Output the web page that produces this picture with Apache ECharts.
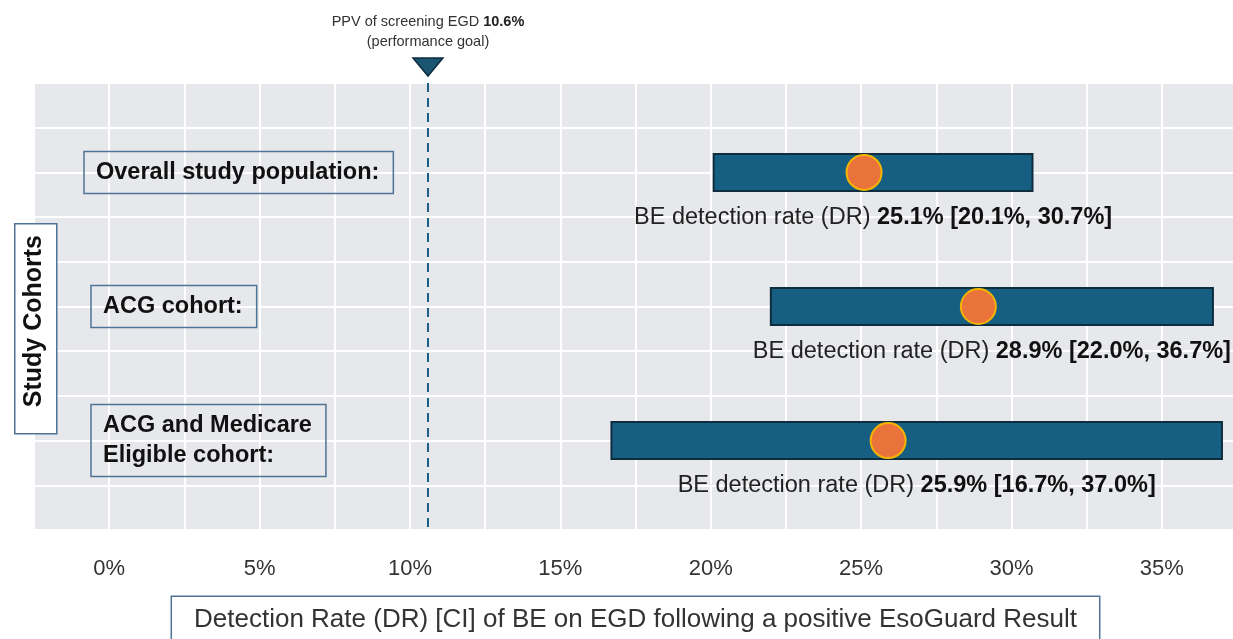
<!DOCTYPE html>
<html>
<head>
<meta charset="utf-8">
<script src="https://cdn.jsdelivr.net/npm/echarts@6/dist/echarts.min.js"></script>
<style>
  html, body { margin: 0; padding: 0; background: #fff; }
  #demo { width: 1233px; height: 639px; }
</style>
</head>
<body>
<div id="demo"></div>
<script>
const cohorts = ['Overall study population:', 'ACG cohort:', 'ACG and Medicare\nEligible cohort:']
const detectionRate = [25.1, 28.9, 25.9]
const ciLow = [20.1, 22.0, 16.7]
const ciHigh = [30.7, 36.7, 37.0]
const xTicks = [0, 5, 10, 15, 20, 25, 30, 35]
const goalPPV = 10.6

const FONT = '"Liberation Sans", Arial, sans-serif'
const BOX_BORDER = '#4f7396'
const boxLeft = [84, 91, 91]

// each cohort sits on every third grid row, starting at row 2
const cohortData = cohorts.map((c, i) => [ciLow[i], ciHigh[i], detectionRate[i], 2 + 3 * i, i])

const pct = v => v.toFixed(1) + '%'

function renderCohort(params, api) {
  const lo = api.value(0), hi = api.value(1), dr = api.value(2), row = api.value(3), i = api.value(4)
  const a = api.coord([lo, row])
  const b = api.coord([hi, row])
  const c = api.coord([dr, row])
  const lab = api.coord([(lo + hi) / 2, row + 1])
  const barH = 37
  return {
    type: 'group',
    children: [
      {
        type: 'text',
        style: {
          text: cohorts[i], x: boxLeft[i], y: a[1],
          verticalAlign: 'middle', font: 'bold 23.5px ' + FONT, fill: '#111',
          lineHeight: 30, padding: [6, 14, 6, 12],
          borderColor: BOX_BORDER, borderWidth: 1.5,
        },
      },
      {
        type: 'rect',
        shape: { x: a[0], y: a[1] - barH / 2, width: b[0] - a[0], height: barH },
        style: { fill: '#175f82', stroke: '#0e2d3e', lineWidth: 2 },
      },
      {
        type: 'circle',
        shape: { cx: c[0], cy: c[1], r: 17.5 },
        style: { fill: '#e9733a', stroke: '#f4b400', lineWidth: 2 },
      },
      {
        type: 'text',
        style: {
          text: '{n|BE detection rate (DR) }{b|' + pct(dr) + ' [' + pct(lo) + ', ' + pct(hi) + ']}',
          x: lab[0], y: lab[1], align: 'center', verticalAlign: 'middle',
          rich: {
            n: { font: '23.5px ' + FONT, fill: '#222' },
            b: { font: 'bold 23.5px ' + FONT, fill: '#111' },
          },
        },
      },
    ],
  }
}

function renderGoal(params, api) {
  const x = api.value(0)
  const top = api.coord([x, 0])
  const bot = api.coord([x, 10])
  return {
    type: 'group',
    children: [
      {
        type: 'line',
        shape: { x1: top[0], y1: top[1], x2: bot[0], y2: bot[1] },
        style: { stroke: '#1b5f85', lineWidth: 2, lineDash: [9, 6] },
      },
      {
        type: 'polygon',
        shape: { points: [[top[0] - 15, top[1] - 25], [top[0] + 15, top[1] - 25], [top[0], top[1] - 7]] },
        style: { fill: '#1a5572', stroke: '#0e2d3e', lineWidth: 1.5 },
      },
      {
        type: 'text',
        style: {
          text: '{n|PPV of screening EGD }{b|' + pct(x) + '}\n{n|(performance goal)}',
          x: top[0], y: top[1] - 51, align: 'center', verticalAlign: 'middle',
          rich: {
            n: { font: '14.5px ' + FONT, fill: '#333', lineHeight: 20 },
            b: { font: 'bold 14.5px ' + FONT, fill: '#222', lineHeight: 20 },
          },
        },
      },
    ],
  }
}

const option = {
  animation: false,
  backgroundColor: '#fff',
  grid: {
    left: 34, top: 83, width: 1203, height: 447,
    containLabel: false, outerBoundsMode: 'none',
    show: true, backgroundColor: '#e6e8eb', borderWidth: 0,
  },
  xAxis: {
    type: 'value',
    min: -2.5, max: 37.5, interval: 2.5,
    axisLine: { show: false },
    axisTick: { show: false },
    splitLine: { lineStyle: { color: '#fff', width: 2 } },
    axisLabel: {
      margin: 28, fontSize: 22, fontFamily: FONT, color: '#333',
      formatter: v => xTicks.includes(v) ? v + '%' : '',
    },
    name: 'Detection Rate (DR) [CI] of BE on EGD following a positive EsoGuard Result',
    nameLocation: 'middle',
    nameGap: 67,
    nameTextStyle: {
      fontSize: 26, fontFamily: FONT, color: '#333',
      backgroundColor: '#fff', borderColor: BOX_BORDER, borderWidth: 1.5,
      padding: [10, 22, 20, 22],
    },
  },
  yAxis: {
    type: 'value',
    min: 0, max: 10, interval: 1, inverse: true,
    axisLine: { show: false },
    axisTick: { show: false },
    axisLabel: { show: false },
    splitLine: { lineStyle: { color: '#fff', width: 2 } },
  },
  graphic: [
    {
      type: 'rect', left: 14, top: 223, z: 100,
      shape: { width: 42, height: 210 },
      style: { fill: '#fff', stroke: BOX_BORDER, lineWidth: 1.5 },
    },
    {
      type: 'text', left: 22, top: 235, z: 101, rotation: Math.PI / 2,
      style: {
        text: 'Study Cohorts',
        font: 'bold 25px ' + FONT, fill: '#111',
      },
    },
  ],
  series: [
    {
      type: 'custom',
      renderItem: renderGoal,
      encode: { x: 0 },
      data: [[goalPPV]],
      clip: false,
      silent: true,
    },
    {
      type: 'custom',
      renderItem: renderCohort,
      encode: { x: [0, 1, 2], y: 3 },
      data: cohortData,
      clip: false,
      silent: true,
    },
  ],
}

const myCharts = echarts.init(document.getElementById('demo'))
myCharts.setOption(option)
</script>
</body>
</html>
